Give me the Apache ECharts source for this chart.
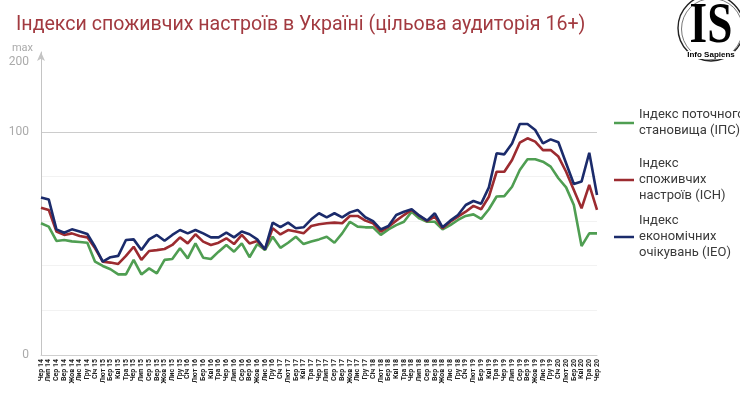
<!DOCTYPE html>
<html>
<head>
<meta charset="utf-8">
<script src="https://cdn.jsdelivr.net/npm/echarts@6/dist/echarts.min.js"></script>
<style>html,body{margin:0;padding:0;background:#fff}#c{width:740px;height:398px}</style>
</head>
<body>
<div id="c"></div>
<script>
const months = ['Чер 14','Лип 14','Сер 14','Вер 14','Жов 14','Лис 14','Гру 14',
'Січ 15','Лют 15','Бер 15','Кві 15','Тра 15','Чер 15','Лип 15','Сер 15','Вер 15','Жов 15','Лис 15','Гру 15',
'Січ 16','Лют 16','Бер 16','Кві 16','Тра 16','Чер 16','Лип 16','Сер 16','Вер 16','Жов 16','Лис 16','Гру 16',
'Січ 17','Лют 17','Бер 17','Кві 17','Тра 17','Чер 17','Лип 17','Сер 17','Вер 17','Жов 17','Лис 17','Гру 17',
'Січ 18','Лют 18','Бер 18','Кві 18','Тра 18','Чер 18','Лип 18','Сер 18','Вер 18','Жов 18','Лис 18','Гру 18',
'Січ 19','Лют 19','Бер 19','Кві 19','Тра 19','Чер 19','Лип 19','Сер 19','Вер 19','Жов 19','Лис 19','Гру 19',
'Січ 20','Лют 20','Бер 20','Кві 20','Тра 20','Чер 20'];

const ips = [59.0,57.5,51.1,51.5,50.9,50.6,50.3,41.8,39.9,38.4,36.1,36.1,42.6,36.1,38.8,36.6,42.6,43.0,47.8,43.3,
50.0,43.6,43.0,46.3,49.3,46.3,50.0,43.8,49.7,47.0,53.0,48.0,50.3,53.0,49.7,50.8,51.8,53.0,50.3,54.5,
59.7,57.5,57.2,57.2,53.8,56.3,58.2,59.7,64.2,61.2,59.7,59.7,56.3,58.2,60.5,62.3,63.0,61.0,65.3,71.0,
71.2,75.4,82.9,87.7,87.7,86.6,84.4,79.2,75.1,67.2,48.8,54.5,54.5];

const ich = [66.0,65.0,55.3,53.8,54.5,53.3,52.7,47.8,41.8,41.4,40.8,44.4,48.5,42.6,46.6,47.0,47.5,49.3,52.7,50.0,
54.1,50.8,49.3,50.3,52.3,49.7,53.8,50.0,51.1,47.3,56.8,54.0,56.0,55.3,54.5,57.8,58.6,59.0,59.3,59.0,
62.3,62.3,60.2,59.0,55.3,57.5,60.2,62.7,65.0,62.3,60.0,62.0,56.8,59.7,62.0,64.2,66.8,65.3,70.9,82.1,
82.1,87.4,95.1,97.1,95.6,91.8,91.8,88.9,82.1,73.9,65.7,76.2,65.0];

const ieo = [70.6,69.7,56.3,54.8,56.3,55.3,54.2,48.5,41.8,43.8,44.4,51.5,51.8,47.0,51.8,53.8,51.2,53.8,56.0,54.5,
56.0,54.5,52.7,52.7,54.8,52.7,55.3,54.1,51.8,47.3,59.3,57.3,59.3,56.8,57.2,60.8,63.5,61.7,63.5,61.7,
63.9,65.0,61.7,60.0,56.3,57.8,62.7,64.2,65.3,62.4,60.2,63.5,57.2,60.2,62.7,67.2,69.0,67.8,75.1,90.4,
89.9,94.8,103.5,103.5,100.8,94.8,96.6,95.3,85.9,76.6,77.7,90.6,71.7];

const seriesNames = ['Індекс поточного\nстановища (ІПС)', 'Індекс\nспоживчих\nнастроїв (ІСН)', 'Індекс\nекономічних\nочікувань (ІЕО)'];
const colors = ['#4f9e52', '#9c2b30', '#1b2b6b'];

const yMax = 135.75;
const FONT = 'Roboto';

const chart = echarts.init(document.getElementById('c'));

function legendFor(i, top, lines) {
  return {
    orient: 'vertical', left: 614, top: top, padding: 0,
    itemWidth: 20, itemHeight: 2.5, icon: 'rect',
    data: [{ name: seriesNames[i], icon: 'rect', itemStyle: { color: colors[i] } }],
    textStyle: { fontFamily: FONT, fontSize: 13, color: '#3a3a3a', lineHeight: 16, padding: [16 * (lines - 1), 0, 0, 0] },
    selectedMode: false
  };
}

chart.setOption({
  animation: false,
  title: {
    text: 'Індекси споживчих настроїв в Україні (цільова аудиторія 16+)',
    left: 11, top: 10,
    textStyle: { fontFamily: FONT, fontSize: 19.6, fontWeight: 'normal', color: '#a23a40' }
  },
  legend: [legendFor(0, 99, 2), legendFor(1, 140, 3), legendFor(2, 197, 3)],
  grid: { left: 41, right: 143, top: 52, bottom: 43, outerBoundsMode: 'none' },
  xAxis: {
    type: 'category', data: months, boundaryGap: false,
    axisLine: { lineStyle: { color: '#cfcfcf' } },
    axisTick: { show: false },
    axisLabel: { interval: 0, rotate: 90, fontSize: 7, fontWeight: 'bold', color: '#222', margin: 4, fontFamily: FONT }
  },
  yAxis: [{
    type: 'value', min: 0, max: yMax, interval: 20,
    name: 'max', nameLocation: 'end', nameGap: 4,
    nameTextStyle: { color: '#aaa', fontSize: 11, fontFamily: FONT, align: 'right', verticalAlign: 'middle', padding: [0, 8, 0, 0] },
    axisLine: { show: true, lineStyle: { color: '#c4c4c4' }, symbol: ['none', 'arrow'], symbolSize: [6, 9] },
    axisTick: { show: false },
    axisLabel: { color: '#aaa', fontSize: 12, fontFamily: FONT, margin: 12,
      formatter: v => (v === 0 || v === 100) ? String(v) : '' },
    splitLine: { show: true, showMaxLine: false,
      lineStyle: { color: ['#e6e6e6', '#f2f2f2', '#f2f2f2', '#f2f2f2', '#f2f2f2', '#cccccc', 'rgba(0,0,0,0)', 'rgba(0,0,0,0)'] } }
  }, {
    type: 'value', position: 'left', min: 0, max: yMax, interval: 131.4,
    axisLine: { show: false }, axisTick: { show: false }, splitLine: { show: false },
    axisLabel: { color: '#aaa', fontSize: 12, fontFamily: FONT, margin: 12,
      formatter: v => (v > 130 && v < 133) ? '200' : '' }
  }],
  series: [
    { name: seriesNames[0], type: 'line', data: ips, symbol: 'none', lineStyle: { width: 2.6, color: colors[0] }, itemStyle: { color: colors[0] } },
    { name: seriesNames[1], type: 'line', data: ich, symbol: 'none', lineStyle: { width: 2.6, color: colors[1] }, itemStyle: { color: colors[1] } },
    { name: seriesNames[2], type: 'line', data: ieo, symbol: 'none', lineStyle: { width: 2.6, color: colors[2] }, itemStyle: { color: colors[2] } }
  ],
  graphic: [
    { type: 'circle', shape: { cx: 711, cy: 28, r: 33 }, style: { fill: '#fff', stroke: '#222', lineWidth: 1.4 } },
    { type: 'circle', shape: { cx: 712, cy: 29, r: 30.5 }, style: { fill: 'none', stroke: '#555', lineWidth: 0.8 } },
    { type: 'text', x: 711, y: 27, scaleX: 0.78,
      style: { text: 'IS', font: 'bold 58px "Liberation Serif"', fill: '#000', align: 'center', verticalAlign: 'middle' } },
    { type: 'text', x: 711, y: 55,
      style: { text: 'Info Sapiens', font: 'bold 8px "Liberation Sans"', fill: '#000', align: 'center', verticalAlign: 'middle', backgroundColor: '#fff' } }
  ]
});
</script>
</body>
</html>
